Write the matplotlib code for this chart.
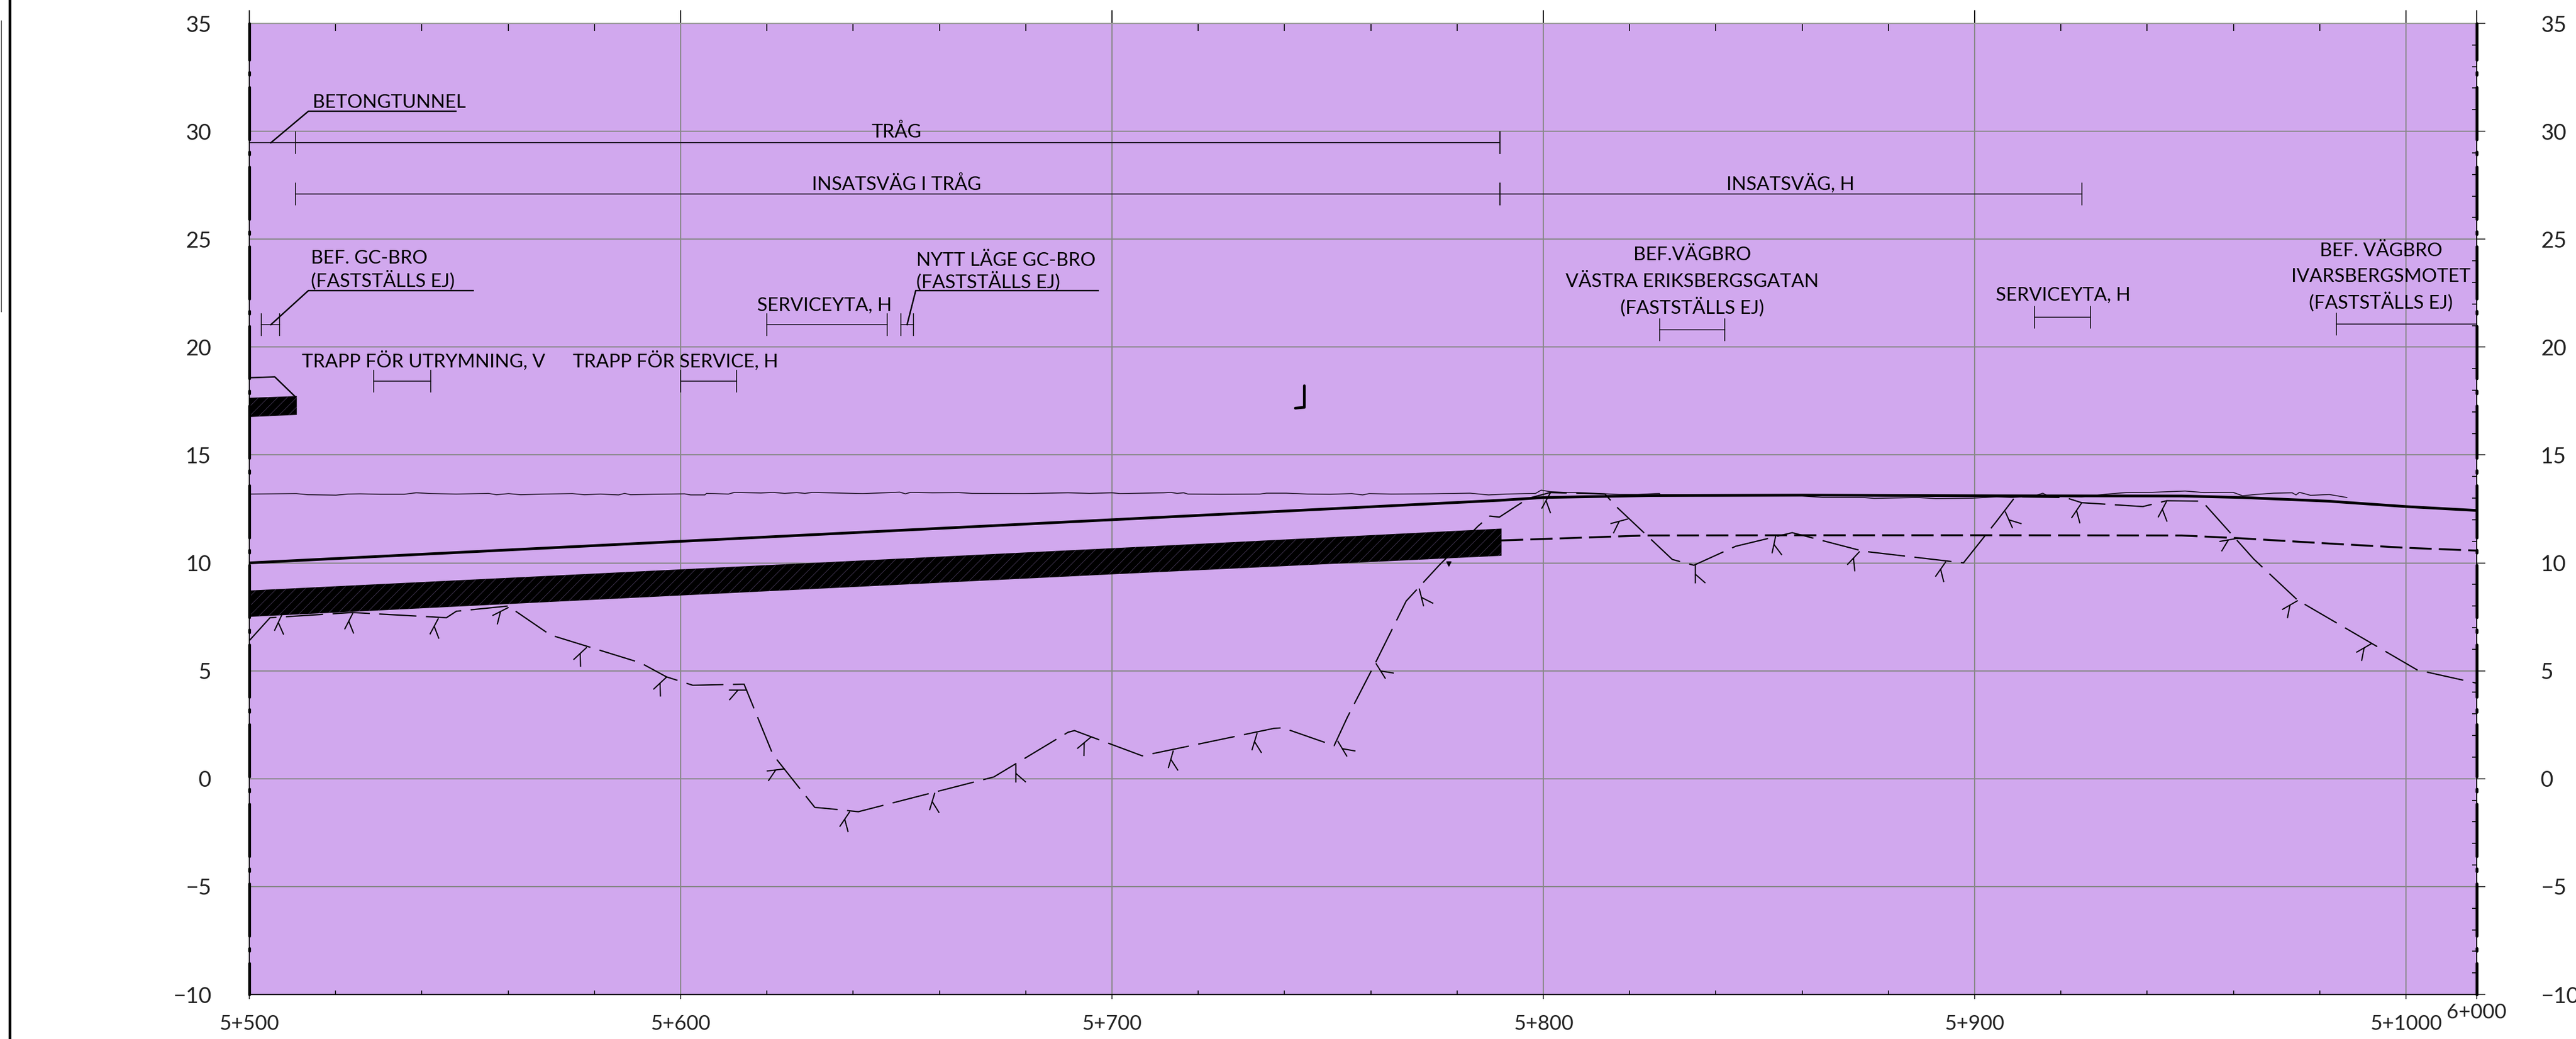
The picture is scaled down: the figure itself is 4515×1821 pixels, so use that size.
import matplotlib
matplotlib.use("Agg")
import matplotlib.pyplot as plt
from matplotlib.lines import Line2D
from matplotlib.markers import MarkerStyle
from matplotlib.path import Path
from matplotlib.transforms import Affine2D

plt.rcParams['font.family'] = ['Lato', 'Liberation Sans', 'DejaVu Sans']
plt.rcParams['lines.scale_dashes'] = False
plt.rcParams['hatch.linewidth'] = 0.5

# axes values
x_min, x_max = 500, 1016.4
y_min, y_max = -10, 35
x_major = [500, 600, 700, 800, 900, 1000, 1016.4]
x_labels = ['5+500', '5+600', '5+700', '5+800', '5+900', '5+1000', '6+000']
x_minor = [520, 540, 560, 580, 620, 640, 660, 680, 720, 740, 760, 780,
           820, 840, 860, 880, 920, 940, 960, 980]
y_major = [-10, -5, 0, 5, 10, 15, 20, 25, 30, 35]
y_labels = ['−10', '−5', '0', '5', '10', '15', '20', '25', '30', '35']
y_minor = [v for v in range(-10, 36) if v % 5 != 0]

# road surface, solid
road_x = [500, 600, 700, 790, 797, 800, 825, 860, 905, 948, 962, 982, 1000, 1016.4]
road_y = [10, 11, 12, 12.9, 12.99, 13.03, 13.12, 13.14, 13.11, 13.1, 13.03, 12.86, 12.61, 12.43]

# road surface below, dashed
lower_x = [790.2, 823.5, 857, 905, 948, 960.8, 982, 1000, 1016.4]
lower_y = [11.04, 11.27, 11.28, 11.28, 11.27, 11.15, 10.9, 10.7, 10.57]

# terrain line
terrain_x = [500, 510.9, 513.6, 520.1, 522.9, 525.7, 530.4, 535.9, 538.7, 542.4, 548, 553.6, 555.4,
             557.3, 560.1, 562.9, 568.4, 574.9, 577.7, 581.4, 585.6, 587, 588.4, 593.5, 600.9, 602.3,
             605.6, 606, 611.1, 612.5, 618.6, 621.4, 624.1, 626.9, 628.8, 630.6, 634.2, 638.1, 642.2,
             647.3, 650.8, 652.1, 653.3, 658.4, 664.5, 667.5, 679.6, 689.8, 694.8, 700, 701.9, 712,
             713.6, 715.1, 716.6, 717.6, 725.2, 734.3, 735.8, 740.4, 745.4, 750.5, 755.6, 758.1, 759.6,
             764.7, 773.8, 783, 787.3, 791.5, 798.2, 799.5, 801.6, 805.8, 807.9, 812.6, 817.6, 821.9,
             826.9, 827.3, 840, 860, 864.9, 874.2, 876.7, 886.8, 891, 899.5, 905.1, 908.6, 913.7, 915.8,
             917.1, 924.8, 930.8, 935.1, 941.1, 948.8, 953.1, 959.9, 962.1, 965.1, 969.3, 973.6, 974.5,
             975.3, 977.9, 982.2, 986.3]
terrain_y = [13.19, 13.21, 13.16, 13.14, 13.19, 13.2, 13.18, 13.18, 13.25, 13.21, 13.19, 13.21, 13.22,
             13.16, 13.21, 13.16, 13.19, 13.21, 13.16, 13.19, 13.15, 13.22, 13.16, 13.18, 13.2, 13.15,
             13.15, 13.22, 13.19, 13.27, 13.24, 13.27, 13.22, 13.26, 13.22, 13.27, 13.25, 13.23, 13.21,
             13.25, 13.28, 13.2, 13.27, 13.25, 13.26, 13.22, 13.21, 13.25, 13.22, 13.25, 13.21, 13.25,
             13.27, 13.22, 13.25, 13.19, 13.18, 13.19, 13.23, 13.23, 13.19, 13.18, 13.21, 13.15, 13.21,
             13.19, 13.2, 13.23, 13.15, 13.19, 13.22, 13.37, 13.3, 13.26, 13.26, 13.22, 13.17, 13.17,
             13.22, 13.11, 13.1, 13.1, 13.03, 13.03, 12.99, 13.03, 12.98, 13.0, 13.06, 13.03, 13.09,
             13.23, 13.09, 13.06, 13.19, 13.26, 13.27, 13.33, 13.26, 13.27, 13.11, 13.17, 13.23, 13.25,
             13.15, 13.27, 13.13, 13.17, 13.03]

# rock line, long dashes
rock_x = [500, 504.8, 523.9, 545.7, 548, 560, 569.8, 590.7, 596.7, 602.8, 614.7, 621.4, 631.1, 633.4,
          641.2, 672.6, 689.8, 691.3, 707, 737.5, 739.6, 751.5, 754.6, 761, 768.2, 775.8, 784.9, 787.6,
          789.8, 796.5, 801.6, 814.3, 816.8, 829.9, 834.9, 844.6, 857.7, 874.2, 897.4, 905, 909.4, 921,
          924.8, 939, 944.5, 952.7, 964.7, 974.9, 1002.6, 1016.3]
rock_y = [6.4, 7.46, 7.7, 7.46, 7.76, 8.0, 6.66, 5.37, 4.72, 4.33, 4.38, 1.11, -1.33, -1.37,
          -1.53, 0.08, 2.15, 2.23, 1.06, 2.33, 2.36, 1.53, 2.86, 5.34, 8.23, 9.88, 11.71, 12.17,
          12.12, 12.99, 13.26, 13.19, 12.63, 10.16, 9.89, 10.77, 11.4, 10.54, 10.0, 11.91, 13.06, 13.03,
          12.79, 12.61, 12.88, 12.86, 10.18, 8.27, 5.04, 4.43]

# fork symbols along the rock line
fork_x = [507.6, 523.9, 543.8, 560, 578.2, 596.7, 615.3, 624.1, 639.2, 658.9, 677.6, 695.1, 714.1,
          733.6, 752.2, 761.1, 771.1, 801.6, 819.6, 835.2, 853.9, 873.3, 893.2, 907, 924.7, 944.5,
          960.8, 974.9, 992]
fork_y = [7.64, 7.7, 7.46, 7.96, 6.1, 4.72, 4.12, 0.47, -1.51, -0.63, 0.67, 1.95, 1.32,
          2.13, 1.77, 5.36, 8.82, 13.26, 12.05, 9.92, 11.28, 10.54, 10.07, 12.39, 12.79, 12.88,
          11.15, 8.27, 6.28]
fork_tilt = [-25, -27, -28, -63, -47, -47, -90, -83, -34, -17, 0, -50, -16,
             -17, 31, 32, 14, -29, -75, 0, -12, -43, -35, 24, -34, -28,
             -80, -60, -60]

# black tube band
tube_x = [500, 600, 700, 790.3]
tube_top = [8.72, 9.7, 10.68, 11.59]
tube_bottom = [7.5, 8.49, 9.47, 10.33]

# small band top left
stub_x = [500, 511]
stub_top = [17.65, 17.73]
stub_bottom = [16.76, 16.86]
stub_cap_x = [500, 505.9, 510.5]
stub_cap_y = [18.58, 18.62, 17.73]

# dimension spans with end marks
span_x0 = [500, 510.7, 510.7, 790, 502.8, 528.9, 600, 620, 651, 827, 913.9, 983.9]
span_x1 = [790, 790, 790, 924.9, 507, 542, 613, 647.9, 654, 842.1, 926.9, 1016.4]
span_y = [29.47, 29.47, 27.09, 27.09, 21.04, 18.42, 18.42, 21.04, 21.04, 20.81, 21.38, 21.07]

# leaders: bent line + underline
leader1_x = [505, 513.7, 547.9]
leader1_y = [29.47, 30.93, 30.93]
leader2_x = [505, 513.7, 551.9]
leader2_y = [21.04, 22.62, 22.62]
leader3_x = [652.5, 654.5, 696.8]
leader3_y = [21.04, 22.62, 22.62]

corner_x = [744.6, 744.6, 742.5]
corner_y = [18.21, 17.21, 17.17]

notes_left = [('BETONGTUNNEL', 514.7, 31.1),
              ('BEF. GC-BRO', 514.3, 23.87),
              ('(FASTSTÄLLS EJ)', 514.3, 22.8),
              ('TRAPP FÖR UTRYMNING, V', 512.2, 19.06),
              ('TRAPP FÖR SERVICE, H', 575, 19.06),
              ('SERVICEYTA, H', 617.7, 21.7),
              ('NYTT LÄGE GC-BRO', 654.6, 23.76),
              ('(FASTSTÄLLS EJ)', 654.6, 22.76)]
notes_center = [('TRÅG', 650, 29.71),
                ('INSATSVÄG I TRÅG', 650, 27.29),
                ('INSATSVÄG, H', 857.3, 27.29),
                ('BEF.VÄGBRO', 834.5, 24.04),
                ('VÄSTRA ERIKSBERGSGATAN', 834.5, 22.78),
                ('(FASTSTÄLLS EJ)', 834.5, 21.57),
                ('SERVICEYTA, H', 920.5, 22.17),
                ('BEF. VÄGBRO', 994.2, 24.21),
                ('IVARSBERGSMOTET', 994.2, 23.02),
                ('(FASTSTÄLLS EJ)', 994.2, 21.8)]

W, H = 4515, 1821
fig = plt.figure(figsize=(W / 100, H / 100), dpi=100, facecolor='white')
ax = fig.add_axes([437 / W, 1 - 1743 / H, (4341 - 437) / W, (1743 - 41) / H])
ax.set_facecolor('#D1A8EE')
ax.set_xlim(x_min, x_max)
ax.set_ylim(y_min, y_max)
ax.set_axisbelow(True)

ax.set_xticks(x_major, labels=x_labels)
ax.set_xticks(x_minor, minor=True)
ax.set_yticks(y_major, labels=y_labels)
ax.grid(True, which='major', color='#888888', lw=1.5)
ax.tick_params(axis='x', which='major', direction='out', length=6, width=1.2, pad=19, labelsize=26, colors='#222222')
ax.tick_params(axis='x', which='minor', direction='in', length=5, width=1.2)
ax.tick_params(axis='y', which='major', length=0, pad=48, labelsize=28, colors='#222222')
ax.xaxis.get_major_ticks()[-1].set_pad(5)

for s in ['left', 'right']:
    ax.spines[s].set_visible(False)
ax.spines['top'].set_color('#999999')
ax.spines['top'].set_linewidth(1.5)
ax.spines['bottom'].set_color('black')
ax.spines['bottom'].set_linewidth(1.6)

top = ax.secondary_xaxis('top')
top.set_xticks(x_major, labels=[])
top.set_xticks(x_minor, minor=True)
top.tick_params(which='major', direction='out', length=16.5, width=1.3)
top.tick_params(which='minor', direction='in', length=9, width=1.2)
top.spines['top'].set_visible(False)

right = ax.secondary_yaxis('right')
right.set_yticks(y_major, labels=y_labels)
right.set_yticks(y_minor, minor=True)
right.tick_params(which='major', direction='inout', length=21.6, width=1.2, pad=70, labelsize=28, colors='#222222')
right.tick_params(which='minor', direction='in', length=6, width=1.2)
right.spines['right'].set_visible(False)

# axis edge lines: thin line + thick long/short dashes
for xv in [x_min, x_max]:
    ax.plot([xv, xv], [y_min, y_max], color='black', lw=1.4, clip_on=False, zorder=6)
    ax.plot([xv, xv], [y_min, y_max], color='black', lw=3.6, clip_on=False, zorder=6,
            dash_capstyle='round', linestyle=(26.6, (66, 15.5, 3.5, 15.5)))

ax.plot(terrain_x, terrain_y, color='#1a1020', lw=1.2, zorder=3)
ax.plot(road_x, road_y, color='black', lw=3.4, zorder=4, solid_capstyle='butt')
ax.plot(lower_x, lower_y, color='black', lw=2.4, zorder=3, linestyle=(0, (28, 9)))
ax.plot(rock_x, rock_y, color='black', lw=1.6, zorder=3, linestyle=(0, (47, 12)))

# fork symbol
fork_path = Path([(0, 0), (0, -1), (0, -0.5), (0.55, -0.98)],
                 [Path.MOVETO, Path.LINETO, Path.MOVETO, Path.LINETO])
for fx, fy, ft in zip(fork_x, fork_y, fork_tilt):
    ms = MarkerStyle(fork_path, transform=Affine2D().rotate_deg(ft))
    ax.plot([fx], [fy], marker=ms, markersize=46, markerfacecolor='none', markeredgecolor='black',
            markeredgewidth=1.5, linestyle='none', zorder=3)
ax.plot([778.0], [9.97], marker='v', markersize=6, color='black', linestyle='none', zorder=3)

# tube bands
ax.fill_between(tube_x, tube_bottom, tube_top, facecolor='black', edgecolor='#55456a', hatch='//', lw=0, zorder=5)
ax.fill_between(stub_x, stub_bottom, stub_top, facecolor='black', edgecolor='#55456a', hatch='//', lw=0, zorder=5)
ax.plot(stub_cap_x, stub_cap_y, color='black', lw=1.8, zorder=5)

# spans
for x0, x1, yv in zip(span_x0, span_x1, span_y):
    ax.plot([x0, x1], [yv, yv], color='#221a2a', lw=1.3, zorder=4)
    if x0 > x_min:
        ax.plot([x0, x0], [yv - 0.5, yv + 0.5], color='#111111', lw=1.2, zorder=4)
    if x1 < x_max:
        ax.plot([x1, x1], [yv - 0.5, yv + 0.5], color='#111111', lw=1.2, zorder=4)

for lx, ly in [(leader1_x, leader1_y), (leader2_x, leader2_y), (leader3_x, leader3_y)]:
    ax.plot(lx, ly, color='black', lw=1.8, zorder=4)
ax.plot(corner_x, corner_y, color='black', lw=3.4, zorder=4, solid_capstyle='round')

for txt, xv, yv in notes_left:
    ax.text(xv, yv, txt, fontsize=24, color='black', ha='left', va='baseline', zorder=7)
for txt, xv, yv in notes_center:
    ax.text(xv, yv, txt, fontsize=24, color='black', ha='center', va='baseline', zorder=7)

# frame lines outside the drawing
fig.add_artist(Line2D([17 / W, 17 / W], [0, 1], color='black', lw=3.4))
fig.add_artist(Line2D([2 / W, 2 / W], [1 - 546 / H, 1 - 36 / H], color='#333333', lw=1.0))

fig.savefig('out.png', dpi=100)
